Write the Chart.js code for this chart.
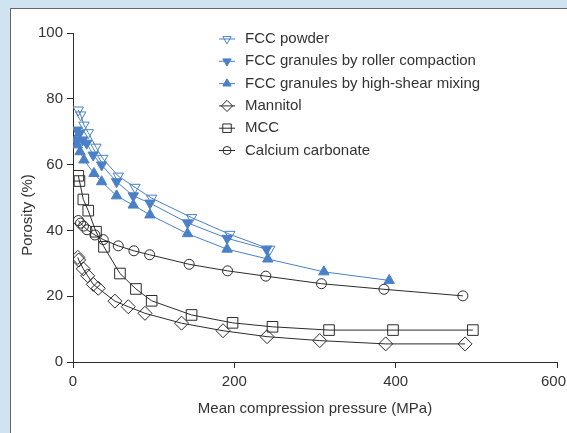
<!DOCTYPE html>
<html>
<head>
<meta charset="utf-8">
<script src="https://cdn.jsdelivr.net/npm/chart.js@4/dist/chart.umd.min.js"></script>
<style>
  html, body { margin: 0; padding: 0; }
  body { background: #cfe3f1; width: 567px; height: 433px; overflow: hidden; position: relative; }
  #panel { position: absolute; left: 10px; top: 8px; width: 600px; height: 500px; background: #fff; border: 1px solid #666; }
  #chart { position: absolute; left: 0; top: 0; }
</style>
</head>
<body>
<div id="panel"></div>
<canvas id="chart" width="567" height="433"></canvas>
<script>
// values
const seriesNames = [
  "FCC powder",
  "FCC granules by roller compaction",
  "FCC granules by high-shear mixing",
  "Mannitol",
  "MCC",
  "Calcium carbonate",
];

const fccPowderX = [6.6, 9.5, 13.6, 18.9, 28.5, 36.8, 56.1, 76.8, 97.5, 147, 194.4, 244];
const fccPowderY = [76.6, 75.1, 72.0, 69.7, 65.3, 61.9, 56.5, 53.1, 49.8, 43.9, 38.8, 34.3];

const rollerX = [5, 8, 12, 17, 25, 35.5, 54, 74.7, 95.4, 142, 191, 240];
const rollerY = [70.5, 69.5, 67.5, 66.5, 62.9, 59.9, 54.8, 50.5, 48.3, 42.3, 37.6, 34.3];

const shearX = [3, 5.3, 8.7, 13.6, 26, 35.5, 54, 74.7, 95.4, 142, 191, 241.5, 311, 392];
const shearY = [67.5, 66, 63.9, 61.4, 57.3, 54.8, 50.5, 47.7, 44.7, 39, 34.3, 31.3, 27.4, 24.8];

const mannitolX = [6, 7, 12.8, 18.2, 25.1, 31.3, 52, 68.5, 89.2, 134.6, 186, 240.6, 305.9, 387.6, 486];
const mannitolY = [31.8, 31, 28.3, 26.2, 23.6, 22.4, 18.5, 16.8, 14.8, 11.8, 9.5, 7.7, 6.5, 5.5, 5.5];

const mccX = [6.6, 8, 12.8, 18.9, 28.5, 38.4, 58.2, 78, 97.5, 147, 197.8, 247.3, 317.4, 396.7, 495.7];
const mccY = [56.6, 55, 49.4, 46, 39.6, 35, 26.9, 22.2, 18.6, 14.3, 11.9, 10.7, 9.7, 9.7, 9.7];

const caco3X = [6.6, 9.3, 13, 17.3, 27.2, 37.5, 56.1, 75.5, 95, 144, 191.6, 239, 308, 385.5, 483.3];
const caco3Y = [43.0, 42.2, 41.3, 40.2, 38.6, 37.2, 35.3, 33.8, 32.6, 29.7, 27.7, 26.1, 23.8, 22.1, 20.1];

const xTicks = [0, 200, 400, 600];
const yTicks = [0, 20, 40, 60, 80, 100];

const BLUE = "#4a80c8";
const INK = "#2b2b2b";
const TEXT = "#333";
const FONT = "'Liberation Sans', Arial, sans-serif";

function pts(xs, ys) {
  return xs.map((x, i) => ({ x: x, y: ys[i] }));
}

function series(label, xs, ys, color, style, radius, rotation, fill) {
  return {
    label: label,
    data: pts(xs, ys),
    showLine: true,
    borderColor: color,
    borderWidth: 1,
    pointStyle: style,
    pointRadius: radius,
    pointRotation: rotation,
    pointBorderColor: color,
    pointBackgroundColor: fill,
    pointBorderWidth: 1,
    tension: 0,
  };
}

const datasets = [
  series(seriesNames[3], mannitolX, mannitolY, INK, "rectRot", 7, 0, "rgba(0,0,0,0)"),
  series(seriesNames[4], mccX, mccY, INK, "rect", 7.5, 0, "rgba(0,0,0,0)"),
  series(seriesNames[5], caco3X, caco3Y, INK, "circle", 5, 0, "rgba(0,0,0,0)"),
  series(seriesNames[2], shearX, shearY, BLUE, "triangle", 6, 0, BLUE),
  series(seriesNames[1], rollerX, rollerY, BLUE, "triangle", 6, 180, BLUE),
  series(seriesNames[0], fccPowderX, fccPowderY, BLUE, "triangle", 6, 180, "rgba(0,0,0,0)"),
];

// legend order as in the figure
const legendOrder = [5, 4, 3, 0, 1, 2];
const lastX = xTicks[xTicks.length - 1];

// axis titles, legend and the clipped last x label are drawn by hand
const extrasPlugin = {
  id: "extras",
  afterDraw(chart) {
    const ctx = chart.ctx;
    const area = chart.chartArea;
    ctx.save();
    ctx.fillStyle = TEXT;
    ctx.font = "15px " + FONT;
    ctx.textAlign = "center";
    ctx.textBaseline = "middle";
    ctx.fillText("Mean compression pressure (MPa)", (area.left + area.right) / 2, 409);

    // last x label would run off the page, shift it left a bit like the figure
    ctx.textAlign = "right";
    ctx.fillText(String(lastX), Math.min(chart.scales.x.getPixelForValue(lastX) + 9, chart.width - 1), 382);

    ctx.save();
    ctx.textAlign = "center";
    ctx.translate(28, 215);
    ctx.rotate(-Math.PI / 2);
    ctx.fillText("Porosity (%)", 0, 0);
    ctx.restore();

    // legend
    const mx = 227;
    let y = 39;
    legendOrder.forEach((idx) => {
      const ds = chart.data.datasets[idx];
      ctx.strokeStyle = ds.borderColor;
      ctx.lineWidth = 1;
      ctx.beginPath();
      ctx.moveTo(mx - 8, y);
      ctx.lineTo(mx + 8, y);
      ctx.stroke();
      ctx.fillStyle = ds.pointBackgroundColor;
      ctx.strokeStyle = ds.pointBorderColor;
      Chart.helpers.drawPoint(ctx, {
        pointStyle: ds.pointStyle,
        radius: ds.pointRadius * 0.8,
        rotation: ds.pointRotation,
        borderWidth: 1,
      }, mx, y);
      ctx.fillStyle = TEXT;
      ctx.textAlign = "left";
      ctx.fillText(ds.label, 245, y);
      y += 22.3;
    });
    ctx.restore();
  },
};

new Chart(document.getElementById("chart"), {
  type: "scatter",
  data: { datasets: datasets },
  options: {
    responsive: false,
    animation: false,
    layout: { autoPadding: false, padding: { top: 33, right: 10, bottom: 0, left: 0 } },
    plugins: {
      legend: { display: false },
      tooltip: { enabled: false },
    },
    scales: {
      x: {
        type: "linear",
        min: 0,
        max: 600,
        afterFit: (scale) => {
          scale.height = 71;
          scale.paddingLeft = 0;
          scale.paddingRight = 0;
        },
        afterBuildTicks: (scale) => { scale.ticks = xTicks.map((v) => ({ value: v })); },
        ticks: {
          color: TEXT,
          font: { size: 15, family: FONT },
          padding: 5,
          maxRotation: 0,
          callback: (v) => (v === lastX ? "" : String(v)),
        },
        grid: { drawOnChartArea: false, drawTicks: true, tickLength: 6, color: INK },
        border: { color: INK, width: 1 },
      },
      y: {
        min: 0,
        max: 100,
        afterFit: (scale) => {
          scale.width = 73;
          scale.paddingTop = 0;
          scale.paddingBottom = 0;
        },
        afterBuildTicks: (scale) => { scale.ticks = yTicks.map((v) => ({ value: v })); },
        ticks: { color: TEXT, font: { size: 15, family: FONT }, padding: 4 },
        grid: { drawOnChartArea: false, drawTicks: true, tickLength: 6, color: INK },
        border: { color: INK, width: 1 },
      },
    },
  },
  plugins: [extrasPlugin],
});
</script>
</body>
</html>
